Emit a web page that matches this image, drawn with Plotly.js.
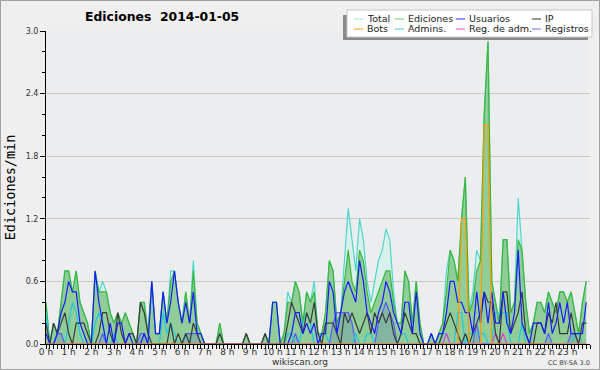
<!DOCTYPE html>
<html><head><meta charset="utf-8">
<script src="https://cdn.plot.ly/plotly-3.0.1.min.js"></script>
<style>html,body{margin:0;padding:0;background:#efefef}</style>
</head><body><div id="chart" style="width:600px;height:370px"></div>
<script>
// 10-minute slots of 2014-01-05 (hour of day)
const hours = Array.from({length:144}, (_, i) => i / 6);
const hourTicks = Array.from({length:24}, (_, h) => h);
const hourLabels = hourTicks.map(h => h + ' h');

const total = [
0.4,0.0,0.2,0.1,0.4,0.7,0.7,0.5,0.7,0.4,0.3,0.2,
0.0,0.7,0.5,0.6,0.5,0.3,0.2,0.3,0.2,0.3,0.2,0.1,
0.0,0.4,0.4,0.1,0.6,0.1,0.1,0.5,0.2,0.7,0.7,0.4,
0.2,0.5,0.2,0.8,0.2,0.1,0.0,0.0,0.0,0.0,0.2,0.0,
0.0,0.0,0.0,0.0,0.0,0.1,0.0,0.0,0.0,0.0,0.1,0.0,
0.4,0.4,0.0,0.1,0.5,0.4,0.6,0.5,0.2,0.5,0.4,0.6,
0.1,0.1,0.3,0.8,0.7,0.2,0.3,0.8,1.3,1.0,0.7,1.2,
1.0,0.6,0.4,0.6,0.8,0.9,1.1,1.0,0.5,0.2,0.2,0.7,
0.6,0.2,0.6,0.2,0.0,0.0,0.1,0.0,0.1,0.2,0.7,0.9,
0.8,0.6,1.2,1.6,0.3,0.5,0.9,0.8,2.2,2.9,0.6,0.4,
0.2,1.0,1.0,0.3,0.4,1.4,0.9,0.4,0.1,0.2,0.4,0.4,
0.3,0.5,0.4,0.3,0.5,0.5,0.4,0.5,0.3,0.1,0.4,0.6];

const ediciones = [
0.4,0.0,0.2,0.1,0.4,0.7,0.7,0.5,0.7,0.4,0.3,0.2,
0.0,0.7,0.5,0.5,0.5,0.3,0.2,0.3,0.2,0.3,0.2,0.1,
0.0,0.4,0.4,0.1,0.6,0.1,0.1,0.5,0.2,0.6,0.7,0.4,
0.2,0.5,0.2,0.7,0.2,0.1,0.0,0.0,0.0,0.0,0.2,0.0,
0.0,0.0,0.0,0.0,0.0,0.1,0.0,0.0,0.0,0.0,0.1,0.0,
0.4,0.4,0.0,0.1,0.4,0.4,0.6,0.5,0.2,0.5,0.4,0.5,
0.1,0.1,0.3,0.8,0.7,0.2,0.3,0.6,0.9,0.6,0.5,0.9,
0.8,0.5,0.3,0.4,0.5,0.6,0.7,0.7,0.4,0.2,0.2,0.7,
0.6,0.2,0.6,0.2,0.0,0.0,0.1,0.0,0.1,0.2,0.5,0.9,
0.8,0.6,1.2,1.6,0.3,0.4,0.7,0.8,2.2,2.9,0.6,0.4,
0.2,1.0,1.0,0.3,0.4,1.0,0.9,0.4,0.1,0.2,0.4,0.4,
0.3,0.5,0.4,0.3,0.5,0.5,0.4,0.5,0.3,0.1,0.4,0.6];

const usuarios = [
0.1,0.0,0.0,0.1,0.3,0.4,0.6,0.5,0.5,0.2,0.1,0.0,
0.0,0.7,0.4,0.2,0.0,0.2,0.0,0.2,0.2,0.0,0.1,0.0,
0.0,0.0,0.1,0.0,0.6,0.1,0.1,0.5,0.2,0.4,0.7,0.4,
0.2,0.4,0.2,0.5,0.1,0.1,0.0,0.0,0.0,0.0,0.0,0.0,
0.0,0.0,0.0,0.0,0.0,0.0,0.0,0.0,0.0,0.0,0.0,0.0,
0.4,0.4,0.0,0.0,0.0,0.1,0.3,0.3,0.1,0.2,0.1,0.2,
0.0,0.1,0.1,0.6,0.5,0.1,0.3,0.5,0.6,0.5,0.4,0.8,
0.6,0.3,0.2,0.1,0.3,0.4,0.6,0.5,0.3,0.2,0.1,0.4,
0.4,0.1,0.5,0.1,0.0,0.0,0.1,0.0,0.1,0.1,0.3,0.6,
0.6,0.4,0.4,0.3,0.3,0.1,0.5,0.2,0.5,0.2,0.5,0.2,
0.2,0.5,0.2,0.1,0.3,0.9,0.2,0.1,0.0,0.2,0.2,0.2,
0.1,0.4,0.1,0.2,0.4,0.2,0.4,0.1,0.1,0.1,0.1,0.4];

const ip = [
0.2,0.0,0.2,0.1,0.2,0.3,0.1,0.0,0.2,0.2,0.2,0.1,
0.0,0.0,0.1,0.3,0.3,0.1,0.0,0.3,0.1,0.0,0.1,0.1,
0.0,0.4,0.3,0.1,0.0,0.0,0.0,0.0,0.0,0.2,0.0,0.1,
0.0,0.1,0.0,0.2,0.1,0.0,0.0,0.0,0.0,0.0,0.1,0.0,
0.0,0.0,0.0,0.0,0.0,0.1,0.0,0.0,0.0,0.0,0.1,0.0,
0.0,0.0,0.0,0.0,0.2,0.4,0.3,0.2,0.1,0.3,0.2,0.4,
0.1,0.0,0.2,0.2,0.2,0.1,0.0,0.3,0.2,0.3,0.2,0.1,
0.2,0.3,0.1,0.3,0.2,0.3,0.2,0.3,0.1,0.0,0.1,0.3,
0.2,0.1,0.1,0.0,0.0,0.0,0.0,0.0,0.0,0.1,0.2,0.3,
0.2,0.1,0.0,0.1,0.0,0.1,0.2,0.3,0.5,0.4,0.4,0.1,
0.0,0.5,0.5,0.1,0.2,0.3,0.5,0.1,0.0,0.0,0.2,0.2,
0.1,0.3,0.2,0.4,0.1,0.1,0.1,0.3,0.1,0.0,0.2,0.2];

const bots = [
0,0,0,0,0,0,0,0,0,0,0,0, 0,0,0,0,0,0,0,0,0,0,0,0,
0,0,0,0,0,0,0,0,0,0,0,0, 0,0,0,0,0,0,0,0,0,0,0,0,
0,0,0,0,0,0,0,0,0,0,0,0, 0,0,0,0,0,0,0,0,0,0,0,0,
0,0,0,0,0,0,0,0,0,0,0,0, 0,0,0,0,0,0,0,0,0,0,0,0,
0,0,0,0,0,0,0,0,0,0,0,0,
0,0,1.2,1.2,0,0,0,0,2.1,2.1,0,0,
0,0,0,0,0,0,0,0,0,0,0,0, 0,0,0,0,0,0,0,0,0,0,0,0];

const admins = [
0.3,0.0,0.0,0.0,0.0,0.0,0.2,0.4,0.3,0.1,0.0,0.0,
0.0,0.2,0.3,0.2,0.0,0.0,0.1,0.0,0.0,0.0,0.0,0.0,
0.0,0.0,0.0,0.0,0.0,0.0,0.0,0.3,0.1,0.2,0.1,0.0,
0.0,0.1,0.0,0.0,0.0,0.0,0.0,0.0,0.0,0.0,0.0,0.0,
0,0,0,0,0,0,0,0,0,0,0,0,
0.0,0.0,0.0,0.0,0.1,0.1,0.0,0.0,0.2,0.3,0.2,0.0,
0.0,0.1,0.1,0.0,0.0,0.0,0.0,0.0,0.0,0.0,0.1,0.0,
0.0,0.1,0.1,0.0,0.0,0.0,0.0,0.0,0.0,0.0,0.1,0.1,
0.0,0.0,0.0,0.0,0.0,0.0,0.0,0.0,0.0,0.1,0.1,0.0,
0.0,0.3,0.3,0.0,0.1,0.1,0.1,0.1,0.1,0.0,0.0,0.3,
0.3,0.3,0.3,0.0,0.0,0.0,0.2,0.0,0.0,0.0,0.0,0.0,
0.0,0.0,0.0,0.0,0.0,0.0,0.0,0.0,0.1,0.1,0.0,0.0];

const regAdm = [
0,0,0,0,0,0,0,0,0,0,0,0, 0,0,0,0,0,0,0,0,0,0,0,0,
0,0,0,0,0,0,0,0,0,0,0,0, 0,0,0,0,0,0,0,0,0,0,0,0,
0,0,0,0,0,0,0,0,0,0,0,0, 0,0,0,0,0,0,0,0,0,0,0,0,
0,0,0,0,0,0,0,0,0,0,0,0, 0,0,0,0,0,0,0,0,0,0,0,0,
0,0,0,0,0,0,0,0,0,0,0.1,0,
0,0,0,0,0,0,0,0,0,0,0,0.1,
0,0.1,0,0,0,0,0,0,0,0,0,0, 0,0,0,0,0,0,0,0,0,0,0,0];

const registros = [
0,0,0,0.1,0.1,0,0,0,0,0,0,0,
0,0,0,0.1,0,0,0,0,0,0,0,0,
0,0.1,0.1,0,0,0,0,0,0,0,0,0,
0,0.1,0.1,0.1,0.1,0,0,0,0,0,0,0,
0,0,0,0,0,0,0,0,0,0,0,0,
0,0,0,0,0,0,0.1,0,0,0,0,0,
0,0,0,0,0.2,0.3,0.3,0.3,0.3,0.2,0,0,
0,0,0,0,0.2,0.3,0.4,0.3,0.2,0,0,0,
0,0,0,0,0,0,0,0,0,0,0,0,
0,0,0,0,0,0,0.2,0,0,0,0,0,
0,0,0,0,0,0,0,0,0,0,0,0,
0,0.1,0,0,0,0,0,0.1,0.1,0,0,0];

const yTicks = [0, 0.6, 1.2, 1.8, 2.4, 3.0];
const yLabels = ['0.0', '0.6', '1.2', '1.8', '2.4', '3.0'];

// legend layout (order as in the reference legend)
const legendNames = ['Total', 'Ediciones', 'Usuarios', 'IP', 'Bots', 'Admins.', 'Reg. de adm.', 'Registros'];
const legendColors = ['#9fe4dc', '#6cc86c', '#3030ff', '#333333', '#ffa020', '#40d0e0', '#e040e0', '#7070ff'];

const L = 46, R = 590, T = 31, B = 344;
const px = x => (x - L) / (R - L);
const py = y => (B - y) / (B - T);

function tr(name, y, color, extra) {
  return Object.assign({type: 'scatter', mode: 'lines', name: name, x: hours, y: y,
    line: {color: color, width: 1.2}, showlegend: false, hoverinfo: 'skip'}, extra || {});
}

const data = [
  tr('Total', total, '#4fd6cc', {fill: 'tozeroy', fillcolor: 'rgba(214,242,234,0.9)'}),
  tr('Ediciones', ediciones, '#3cb83c', {fill: 'tozeroy', fillcolor: 'rgba(72,168,72,0.5)'}),
  tr('Registros', registros, '#5a5aff', {fill: 'tozeroy', fillcolor: 'rgba(70,80,200,0.18)'}),
  tr('Admins.', admins, '#22c8dc'),
  tr('Reg. de adm.', regAdm, '#e040e0'),
  tr('IP', ip, '#3a3a3a'),
  tr('Usuarios', usuarios, '#1a1aff'),
  tr('Bots', bots, '#ff9900')
];

const shapes = [
  {type: 'rect', xref: 'paper', yref: 'paper', x0: px(0.5), x1: px(599.5), y0: py(369.5), y1: py(0.5),
   line: {color: '#a0a0a0', width: 1}, fillcolor: 'rgba(0,0,0,0)', layer: 'below'},
  {type: 'rect', xref: 'paper', yref: 'paper', x0: px(343), x1: px(588), y0: py(40), y1: py(15),
   line: {width: 0}, fillcolor: '#8a8a8a'},
  {type: 'rect', xref: 'paper', yref: 'paper', x0: px(347), x1: px(592), y0: py(37), y1: py(10),
   line: {color: '#c8c8c8', width: 1}, fillcolor: '#ffffff'}
];
const annotations = [];
const colX = [367, 408, 469, 545];
const rowY = [19, 29];
legendNames.forEach((n, k) => {
  const c = k % 4, r = Math.floor(k / 4);
  shapes.push({type: 'line', xref: 'paper', yref: 'paper', x0: px(colX[c] - 13), x1: px(colX[c] - 4),
    y0: py(rowY[r]), y1: py(rowY[r]), line: {color: legendColors[k], width: 1}});
  annotations.push({xref: 'paper', yref: 'paper', x: px(colX[c] - 2), y: py(rowY[r]), xanchor: 'left', yanchor: 'middle',
    text: n, showarrow: false, font: {size: 9.5, color: '#222'}});
});
annotations.push({xref: 'paper', yref: 'paper', x: px(300), y: py(362), xanchor: 'center', yanchor: 'middle',
  text: 'wikiscan.org', showarrow: false, font: {size: 9, color: '#333'}});
annotations.push({xref: 'paper', yref: 'paper', x: px(592), y: py(363), xanchor: 'right', yanchor: 'middle',
  text: 'CC BY-SA 3.0', showarrow: false, font: {size: 6.5, color: '#444'}});

const layout = {
  width: 600, height: 370,
  margin: {l: L, r: 600 - R, t: T, b: 370 - B},
  paper_bgcolor: '#efefef', plot_bgcolor: '#ecedef',
  font: {family: 'DejaVu Sans', color: '#333'},
  title: {text: '<b>Ediciones\u00a0\u00a02014-01-05</b>', xref: 'container', yref: 'container',
    x: 85 / 600, xanchor: 'left', y: 1 - 17 / 370, yanchor: 'middle',
    font: {family: 'DejaVu Sans', size: 12.4, color: '#000'}},
  showlegend: false,
  xaxis: {range: [0, 24], tickmode: 'array', tickvals: hourTicks, ticktext: hourLabels,
    ticks: 'outside', ticklen: 4, tickcolor: '#000', showline: true, linecolor: '#000', linewidth: 1,
    showgrid: false, zeroline: false, tickfont: {size: 9, color: '#333'}, ticklabelstandoff: -5,
    minor: {dtick: 1 / 6, tick0: 0, ticks: 'outside', ticklen: 4, tickcolor: '#000', showgrid: false}},
  yaxis: {range: [0, 3.0], tickmode: 'array', tickvals: yTicks, ticktext: yLabels,
    ticks: 'outside', ticklen: 5, tickcolor: '#000', showline: true, linecolor: '#000', linewidth: 1,
    showgrid: true, gridcolor: '#c9c9c9', zeroline: false, tickfont: {size: 8, color: '#333'},
    minor: {dtick: 0.2, tick0: 0, ticks: 'outside', ticklen: 3, tickcolor: '#000', showgrid: false},
    title: {text: 'Ediciones/min', standoff: 6, font: {family: 'DejaVu Sans Mono', size: 13.5, color: '#000'}}},
  shapes: shapes,
  annotations: annotations
};

Plotly.newPlot('chart', data, layout, {displayModeBar: false, staticPlot: true});
</script></body></html>
